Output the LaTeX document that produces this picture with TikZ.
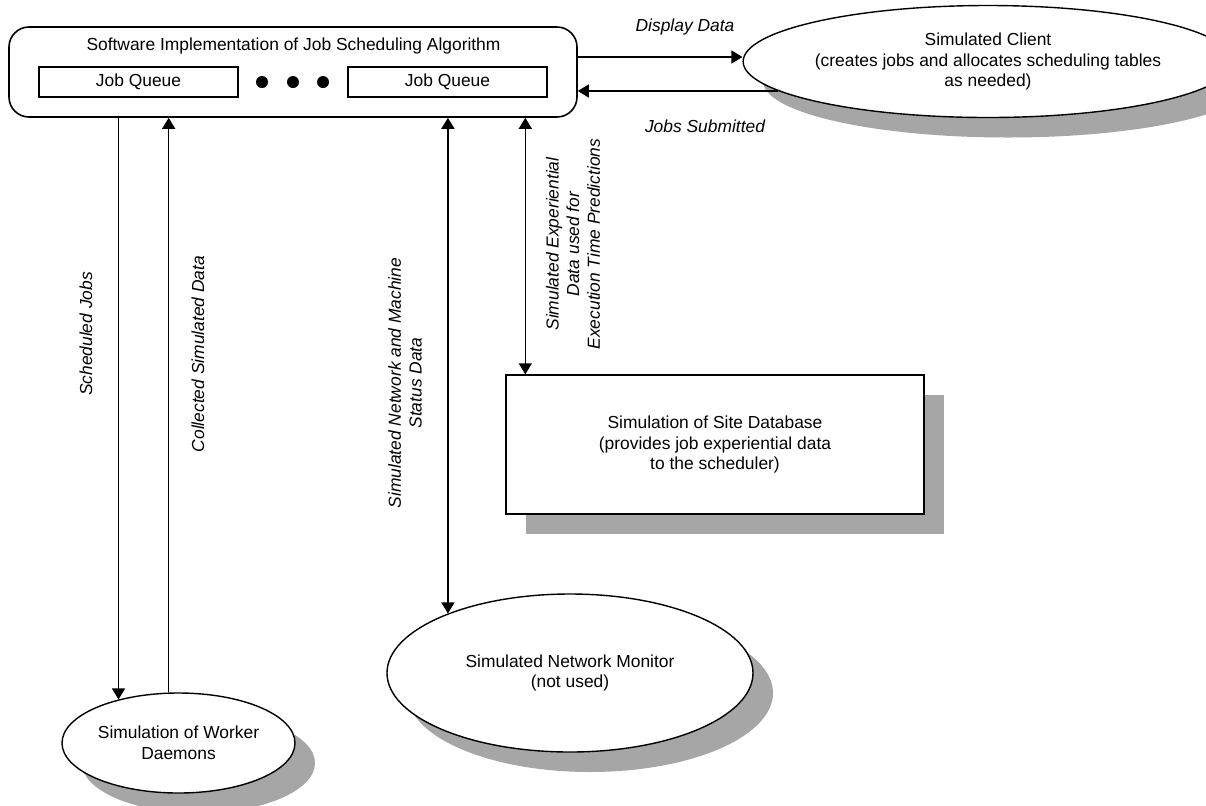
\documentclass[tikz,border=0pt]{standalone}
\usepackage{fontspec}
\setmainfont{Liberation Sans}
\usepackage{tikz}
\usetikzlibrary{shapes.geometric,shadows,arrows.meta}

\begin{document}
\begin{tikzpicture}[x=0.5pt,y=-0.5pt,
	every node/.style={font=\fontsize{8.7}{10.3}\selectfont},
	lbl/.style={font=\fontsize{8.7}{10.3}\selectfont\itshape, align=center},
	shade/.style={drop shadow={shadow xshift=10pt, shadow yshift=-10pt, fill=black!35, opacity=1}},
	arr/.style={line width=0.7pt, -{Triangle[length=5.5pt,width=6.5pt]}},
	darr/.style={line width=0.7pt, {Triangle[length=5.5pt,width=6.5pt]}-{Triangle[length=5.5pt,width=6.5pt]}}]
	\useasboundingbox (0,0) rectangle (1206,805);

	% Make nodes
	\node[draw, rounded corners=10pt, line width=0.8pt, minimum width=284pt, minimum height=45pt] (sched) at (293,72) {};
	\node (title) at (293.5,46) {Software Implementation of Job Scheduling Algorithm};
	\node[draw, line width=0.9pt, minimum width=99.5pt, minimum height=15pt, inner sep=0] (jq1) at (138.5,82) {Job Queue};
	\node[draw, line width=0.9pt, minimum width=99.5pt, minimum height=15pt, inner sep=0] (jq2) at (447.5,82) {Job Queue};
	\foreach \x [count=\i] in {262,293,323}
		\node[circle, fill, inner sep=0, minimum size=6pt] (dot\i) at (\x,82) {};

	\node[draw, ellipse, shade, fill=white, line width=0.7pt, minimum width=204pt, minimum height=56pt, inner sep=0, align=center] (client) at (988,61.5) {Simulated Client\\(creates jobs and allocates scheduling tables\\as needed)};
	\node[draw, shade, fill=white, line width=0.7pt, minimum width=209pt, minimum height=69.5pt, align=center] (site) at (715,444.5) {Simulation of Site Database\\(provides job experiential data\\to the scheduler)};
	\node[draw, ellipse, shade, fill=white, line width=0.7pt, minimum width=183pt, minimum height=79pt, inner sep=0, align=center] (monitor) at (570,673) {Simulated Network Monitor\\(not used)};
	\node[draw, ellipse, shade, fill=white, line width=0.7pt, minimum width=116.5pt, minimum height=50pt, inner sep=0, align=center] (worker) at (178.5,743) {Simulation of Worker\\Daemons};

	% Make arrows
	\draw[arr] ([yshift=7.5pt]sched.east) -- ([yshift=7.5pt]sched.east -| client.west);
	\draw[arr] (client.188) -- (client.188 -| sched.east);
	\draw[arr] (worker.144 |- sched.south) -- (worker.144);
	\draw[arr] (worker.101) -- (worker.101 |- sched.south);
	\draw[darr] (monitor.154 |- sched.south) -- (monitor.154);
	\draw[darr] ([xshift=10pt]site.north west |- sched.south) -- ([xshift=10pt]site.north west);

	% Labels
	\node[lbl] (ddlbl) at (685,27) {Display Data};
	\node[lbl] (jslbl) at (705,126) {Jobs Submitted};
	\node[lbl, rotate=90] (sjlbl) at (86,334) {Scheduled Jobs};
	\node[lbl, rotate=90] (cdlbl) at (198,354) {Collected Simulated Data};
	\node[lbl, rotate=90] (nslbl) at (405,383) {Simulated Network and Machine\\Status Data};
	\node[lbl, rotate=90] (edlbl) at (573,244) {Simulated Experiential\\Data used for\\Execution Time Predictions};
\end{tikzpicture}
\end{document}
